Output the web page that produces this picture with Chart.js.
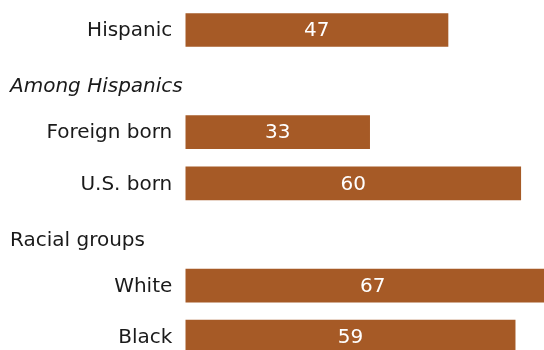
<!DOCTYPE html>
<html>
<head>
<meta charset="utf-8">
<script src="https://cdn.jsdelivr.net/npm/chart.js@4/dist/chart.umd.min.js"></script>
<style>
  html, body { margin: 0; padding: 0; background: #ffffff; }
  #wrap { width: 544px; height: 350px; overflow: hidden; position: relative; }
  canvas { display: block; }
</style>
</head>
<body>
<div id="wrap"><canvas id="chart" width="633" height="370"></canvas></div>
<script>
// Row labels (empty slots hold the group headings)
const categories = ['Hispanic', '', 'Foreign born', 'U.S. born', '', 'White', 'Black'];
// Percent values for each row
const values = [47, null, 33, 60, null, 67, 59];
// Group headings placed in the empty slots
const headingRows = [1, 4];
const headingTexts = ['Among Hispanics', 'Racial groups'];
const headingItalic = [true, false];

const BAR_COLOR = '#a65a26';
const TEXT_COLOR = '#1a1a1a';
const FONT = '"DejaVu Sans", sans-serif';

// Draws the value inside each bar and the left-aligned group headings
const annotate = {
  id: 'annotate',
  afterDatasetsDraw(chart) {
    const ctx = chart.ctx;
    const meta = chart.getDatasetMeta(0);
    const yScale = chart.scales.y;
    ctx.save();
    ctx.font = '20px ' + FONT;
    ctx.fillStyle = '#ffffff';
    ctx.textAlign = 'center';
    ctx.textBaseline = 'middle';
    meta.data.forEach((bar, i) => {
      const v = values[i];
      if (v === null) return;
      const p = bar.getProps(['x', 'y', 'base'], true);
      ctx.fillText(String(v), (p.x + p.base) / 2, p.y + 1);
    });
    ctx.fillStyle = TEXT_COLOR;
    ctx.textAlign = 'left';
    headingRows.forEach((row, k) => {
      ctx.font = (headingItalic[k] ? 'italic ' : '') + '20px ' + FONT;
      ctx.fillText(headingTexts[k], 10, yScale.getPixelForValue(row) + 6);
    });
    ctx.restore();
  }
};

new Chart(document.getElementById('chart'), {
  type: 'bar',
  data: {
    labels: categories,
    datasets: [{
      data: values,
      backgroundColor: BAR_COLOR,
      borderWidth: 0,
      barPercentage: 0.66,
      categoryPercentage: 1.0
    }]
  },
  options: {
    indexAxis: 'y',
    responsive: false,
    animation: false,
    devicePixelRatio: 1,
    layout: { padding: { top: 4.45, bottom: 7.8, left: 0, right: 0 } },
    plugins: {
      legend: { display: false },
      tooltip: { enabled: false }
    },
    scales: {
      x: {
        display: false,
        min: 0,
        max: 80
      },
      y: {
        afterFit(scale) {
          scale.width = 185.3;
          scale.paddingTop = 0;
          scale.paddingBottom = 0;
        },
        grid: { display: false, drawTicks: false },
        border: { display: false },
        ticks: {
          color: TEXT_COLOR,
          padding: 13,
          labelOffset: 1,
          font: { family: FONT, size: 20 }
        }
      }
    }
  },
  plugins: [annotate]
});
</script>
</body>
</html>
